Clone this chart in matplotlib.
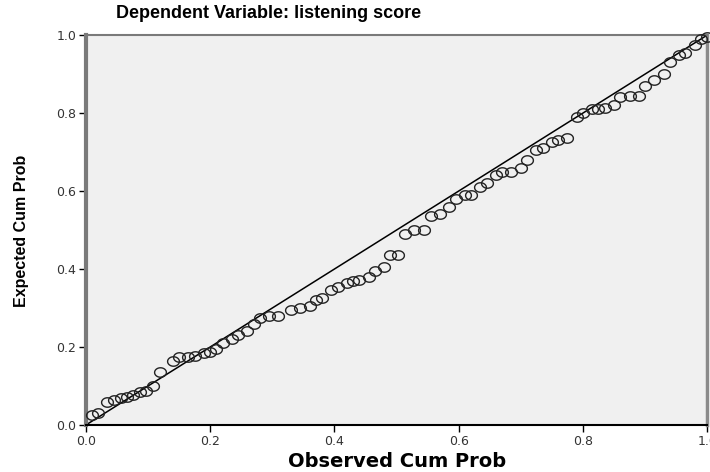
import matplotlib.pyplot as plt
import numpy as np

observed = [0.01, 0.02, 0.034, 0.045, 0.056, 0.066, 0.076, 0.087, 0.097, 0.108,
            0.12, 0.14, 0.15, 0.165, 0.175, 0.19, 0.20, 0.21, 0.22, 0.235,
            0.245, 0.26, 0.27, 0.28, 0.295, 0.31, 0.33, 0.345, 0.36, 0.37,
            0.38, 0.395, 0.405, 0.42, 0.43, 0.44, 0.455, 0.465, 0.48, 0.49,
            0.502, 0.513, 0.528, 0.545, 0.555, 0.57, 0.585, 0.595, 0.61, 0.62,
            0.635, 0.645, 0.66, 0.67, 0.685, 0.70, 0.71, 0.725, 0.735, 0.75,
            0.76, 0.775, 0.79, 0.80, 0.815, 0.825, 0.835, 0.85, 0.86, 0.875,
            0.89, 0.90, 0.915, 0.93, 0.94, 0.955, 0.965, 0.98, 0.99, 1.0]
expected = [0.025, 0.03, 0.06, 0.065, 0.068, 0.072, 0.078, 0.085, 0.088, 0.10,
            0.135, 0.165, 0.175, 0.175, 0.178, 0.185, 0.188, 0.195, 0.21, 0.22,
            0.23, 0.24, 0.26, 0.275, 0.28, 0.28, 0.295, 0.30, 0.305, 0.32,
            0.325, 0.345, 0.355, 0.365, 0.37, 0.372, 0.38, 0.395, 0.405, 0.435,
            0.435, 0.49, 0.50, 0.50, 0.535, 0.54, 0.56, 0.58, 0.59, 0.59,
            0.61, 0.62, 0.64, 0.648, 0.65, 0.66, 0.68, 0.705, 0.71, 0.725,
            0.73, 0.735, 0.79, 0.80, 0.81, 0.81, 0.812, 0.82, 0.84, 0.845,
            0.845, 0.87, 0.885, 0.90, 0.93, 0.95, 0.955, 0.975, 0.99, 0.995]
ticks = [0.0, 0.2, 0.4, 0.6, 0.8, 1.0]

plt.rcParams['font.family'] = ['Liberation Sans', 'DejaVu Sans']

# слегка сплюснутый кружок, как в SPSS
t = np.linspace(0, 2 * np.pi, 40)
ellipse = np.column_stack([np.cos(t), 0.8 * np.sin(t)])

fig = plt.figure(figsize=(7.1, 4.72), dpi=100)
ax = fig.add_axes([0.121, 0.0996, 0.875, 0.826])
ax.set_facecolor('#f0f0f0')

# диагональ
ax.plot([0, 1], [0, 1], color='black', linewidth=1.1, zorder=2)
ax.plot(observed, expected, linestyle='none', marker=ellipse, markersize=8.5,
        markerfacecolor='none', markeredgecolor='#222222', markeredgewidth=1.0,
        zorder=3, clip_on=False)

ax.set_xlim(0, 1)
ax.set_ylim(0, 1)
ax.set_xticks(ticks)
ax.set_yticks(ticks)
ax.set_xticklabels([f'{t:.1f}' for t in ticks], family='DejaVu Sans')
ax.set_yticklabels([f'{t:.1f}' for t in ticks], family='DejaVu Sans')
ax.tick_params(direction='out', length=5, width=1, labelsize=9, colors='black',
               labelcolor='#333333', pad=2)

ax.spines['left'].set_color('#7a7a7a')
ax.spines['left'].set_linewidth(3)
ax.spines['right'].set_color('#8a8a8a')
ax.spines['right'].set_linewidth(2.5)
ax.spines['top'].set_color('#7a7a7a')
ax.spines['top'].set_linewidth(1.5)
ax.spines['bottom'].set_color('black')
ax.spines['bottom'].set_linewidth(1.5)

fig.text(0.378, 0.972, 'Dependent Variable: listening score', ha='center', va='center',
         fontsize=13, fontweight='bold')
fig.text(0.559, 0.022, 'Observed Cum Prob', ha='center', va='center',
         fontsize=14, fontweight='bold', family='DejaVu Sans')
fig.text(0.03, 0.51, 'Expected Cum Prob', ha='center', va='center', rotation=90,
         fontsize=11.5, fontweight='bold')

fig.savefig('out.png', dpi=100)
